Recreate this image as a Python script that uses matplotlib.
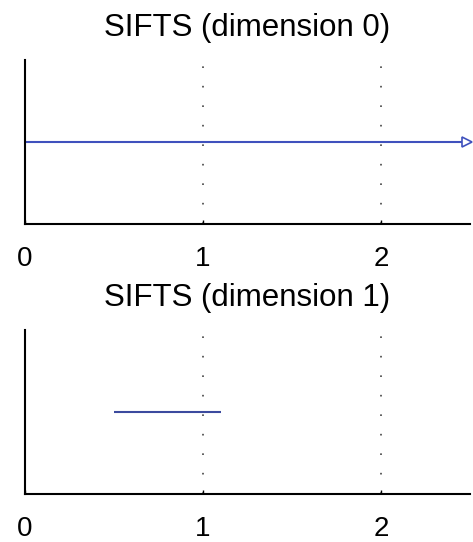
import numpy as np
import matplotlib
matplotlib.use("Agg")
import matplotlib.pyplot as plt

plt.rcParams['font.family'] = ['Liberation Sans', 'DejaVu Sans']

titles = ["SIFTS (dimension 0)", "SIFTS (dimension 1)"]
births = [[0.0], [0.5]]
deaths = [[np.inf], [1.1]]
bar_y = [[0.5], [0.5]]
xticks = [0, 1, 2]
xlim = (0, 2.5)

fig = plt.figure(figsize=(4.73, 5.42), dpi=100)
positions = [[0.053, 0.5867, 0.9407, 0.3026], [0.053, 0.0886, 0.9407, 0.3026]]
line_color = '#3f51bd'

for pos, title, b, d, yy in zip(positions, titles, births, deaths, bar_y):
    ax = fig.add_axes(pos)
    ax.set_xlim(*xlim)
    ax.set_ylim(0, 1)
    for xb, xd, y in zip(b, d, yy):
        if np.isinf(xd):
            ax.plot([xb, xlim[1]], [y, y], color=line_color, lw=1.5, solid_capstyle='butt', clip_on=False)
            ax.plot([xlim[1] - 0.015], [y], marker='>', markersize=7, markerfacecolor='white',
                    markeredgecolor=line_color, markeredgewidth=1.2, clip_on=False, zorder=5)
        else:
            ax.plot([xb, xd], [y, y], color='#3c4a9e', lw=1.5, solid_capstyle='butt')
    for xt in xticks[1:]:
        ax.axvline(xt, color='#444444', lw=1.2, linestyle=(0, (1, 10.7)), zorder=0)
    ax.set_xticks(xticks)
    ax.set_xticklabels([str(t) for t in xticks], fontsize=20)
    ax.set_yticks([])
    ax.tick_params(axis='x', direction='in', length=3, width=1, pad=16)
    for s in ['top', 'right']:
        ax.spines[s].set_visible(False)
    for s in ['left', 'bottom']:
        ax.spines[s].set_linewidth(1.5)
        ax.spines[s].set_color('black')
    ax.set_title(title, fontsize=22.5, pad=17)

fig.savefig("out.png", dpi=100)
